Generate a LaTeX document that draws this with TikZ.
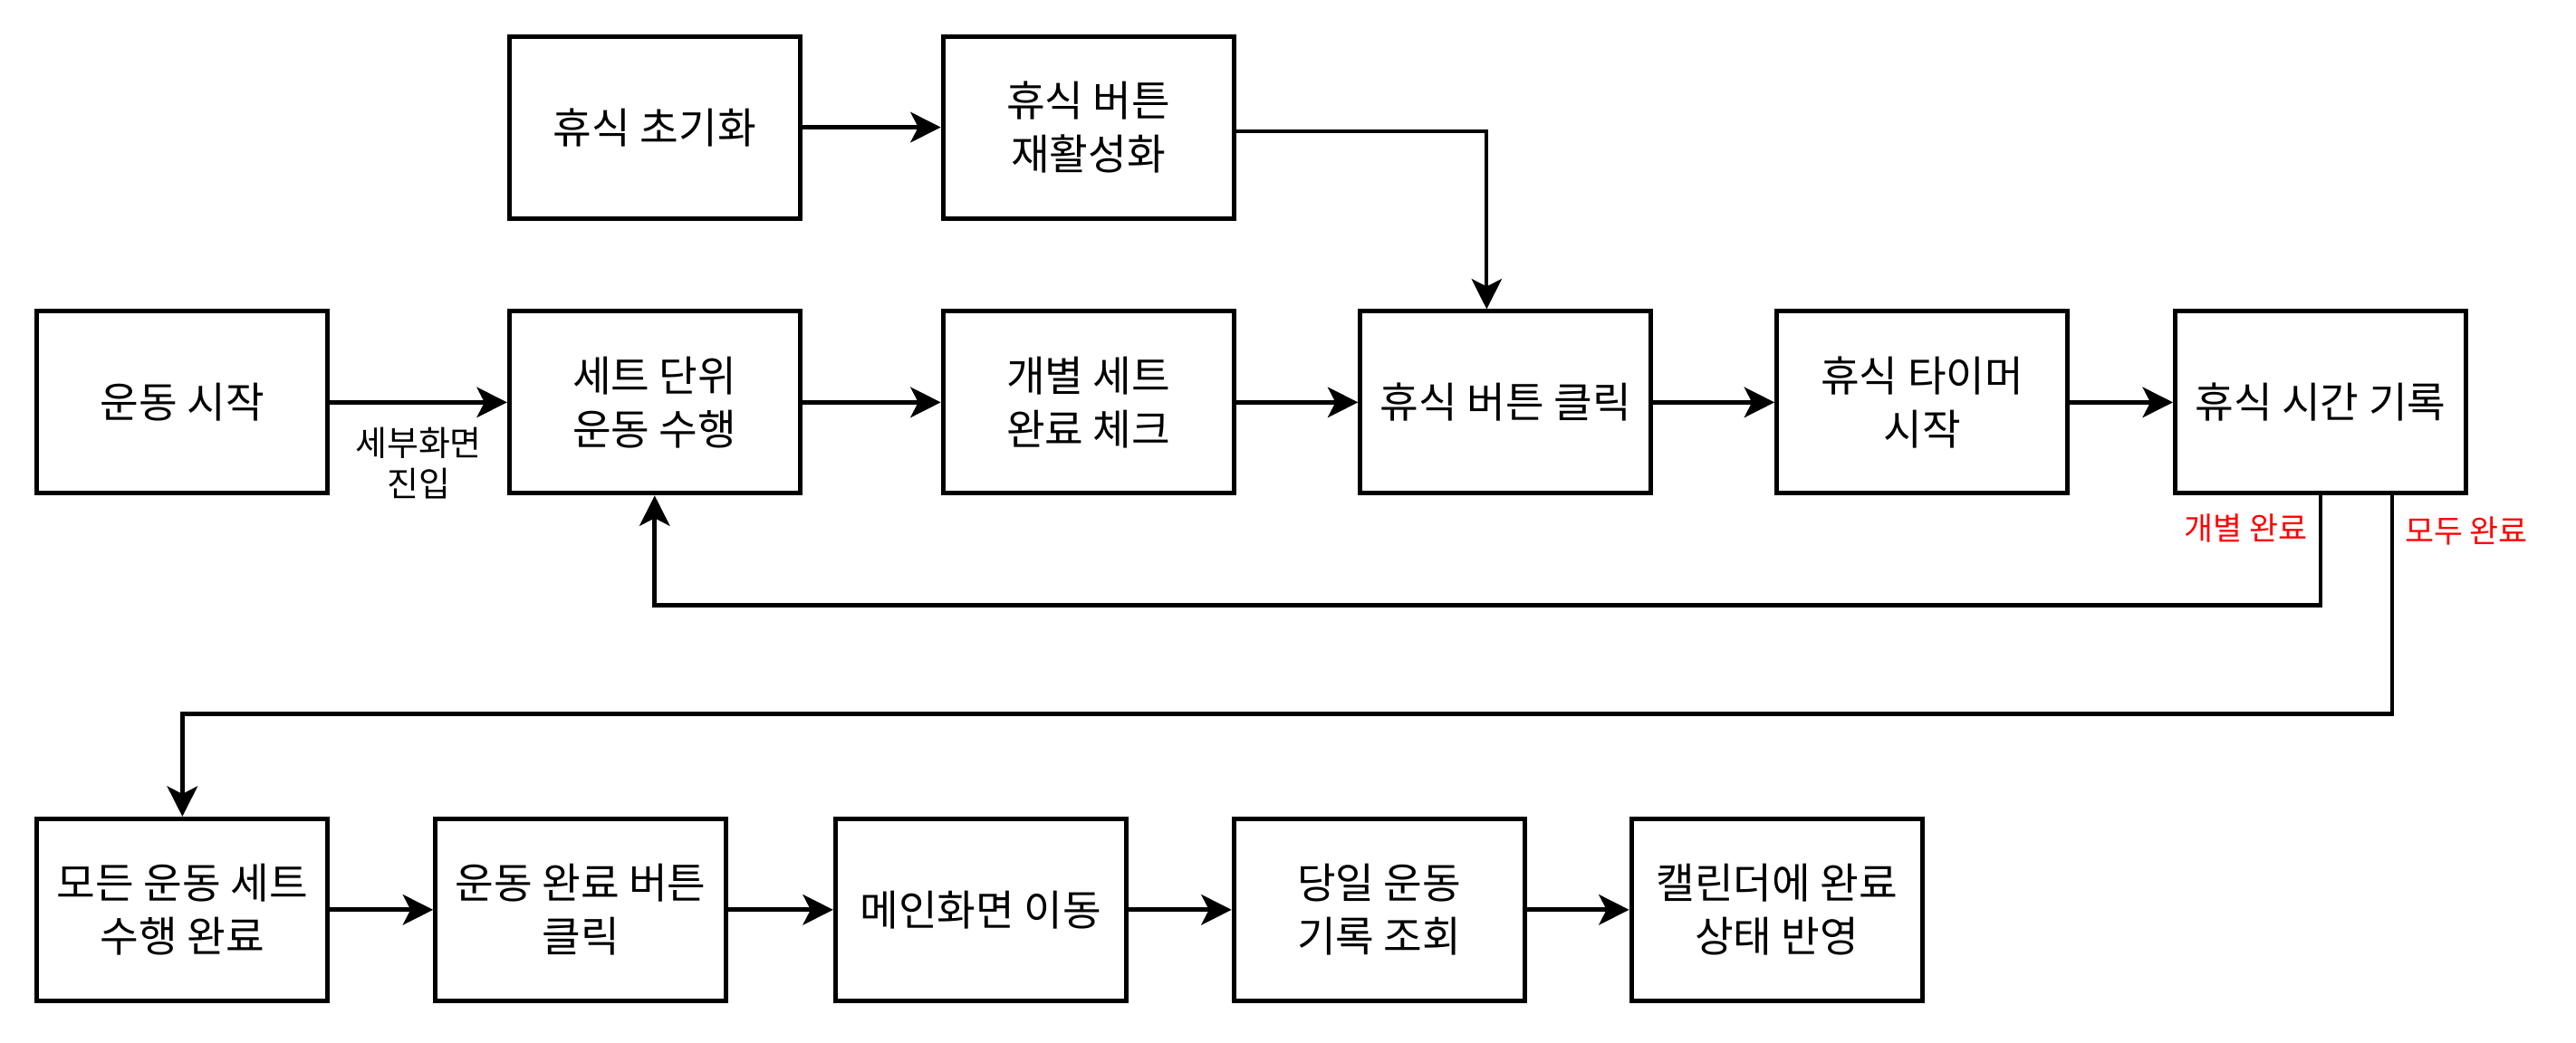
\documentclass[tikz,border=0pt]{standalone}
\usepackage{fontspec}
\setmainfont{Noto Sans CJK KR}
\usepackage{xcolor}
\usetikzlibrary{
	arrows.meta,
	positioning
}
\definecolor{CondRed}{RGB}{255,0,0}

\begin{document}
\begin{tikzpicture}[x=0.18138mm, y=-0.18138mm,
		box/.style={draw, line width=1.4pt, minimum width=32.1mm, minimum height=20.1mm,
			inner sep=1mm, align=center, font=\fontsize{13.2}{16.8}\selectfont},
		flow/.style={-{Stealth[length=9.5pt, width=9.5pt, inset=2.4pt]}, line width=1.4pt},
		cond/.style={font=\fontsize{9.9}{12}\selectfont, text=CondRed},
		note/.style={font=\fontsize{10.8}{12.8}\selectfont, align=center}]
		\useasboundingbox (0,0) rectangle (1568,635);
		
		% 휴식 버튼 준비
		\node[box] (init) at (398.5,77.5) {휴식 초기화};
		\node[box] (reenable) at (662.5,77.5) {휴식 버튼\\재활성화};
		
		% 세트 진행
		\node[box] (start) at (111,245) {운동 시작};
		\node[box] (setrun) at (398.5,245) {세트 단위\\운동 수행};
		\node[box] (check) at (662.5,245) {개별 세트\\완료 체크};
		\node[box] (click) at (916.5,245) {휴식 버튼 클릭};
		\node[box] (timer) at (1170,245) {휴식 타이머\\시작};
		\node[box] (record) at (1412.5,245) {휴식 시간 기록};
		
		% 운동 마무리
		\node[box] (alldone) at (111,554) {모든 운동 세트\\수행 완료};
		\node[box] (donebtn) at (353.5,554) {운동 완료 버튼\\클릭};
		\node[box] (mainscr) at (597,554) {메인화면 이동};
		\node[box] (today) at (839.5,554) {당일 운동\\기록 조회};
		\node[box] (calendar) at (1081.5,554) {캘린더에 완료\\상태 반영};
		
		\draw[flow] (init) -- (reenable);
		\draw[flow, line width=1.1pt] ([yshift=-0.4mm]reenable.east) -| ([xshift=-2.1mm]click.north);
		
		\draw[flow] (start) -- node[note, below, yshift=-1.4mm] {세부화면\\진입} (setrun);
		\draw[flow] (setrun) -- (check);
		\draw[flow] (check) -- (click);
		\draw[flow] (click) -- (timer);
		\draw[flow] (timer) -- (record);
		
		% 분기: 개별 완료 / 모두 완료
		\draw[flow] (record.south) -- node[cond, left, pos=0.3] {개별 완료} ++(0,67) -| (setrun.south);
		\draw[flow] ([xshift=7.9mm]record.south) -- node[cond, right, pos=0.16] {모두 완료} ++(0,133) -| (alldone.north);
		
		\draw[flow] (alldone) -- (donebtn);
		\draw[flow] (donebtn) -- (mainscr);
		\draw[flow] (mainscr) -- (today);
		\draw[flow] (today) -- (calendar);
	\end{tikzpicture}
\end{document}
